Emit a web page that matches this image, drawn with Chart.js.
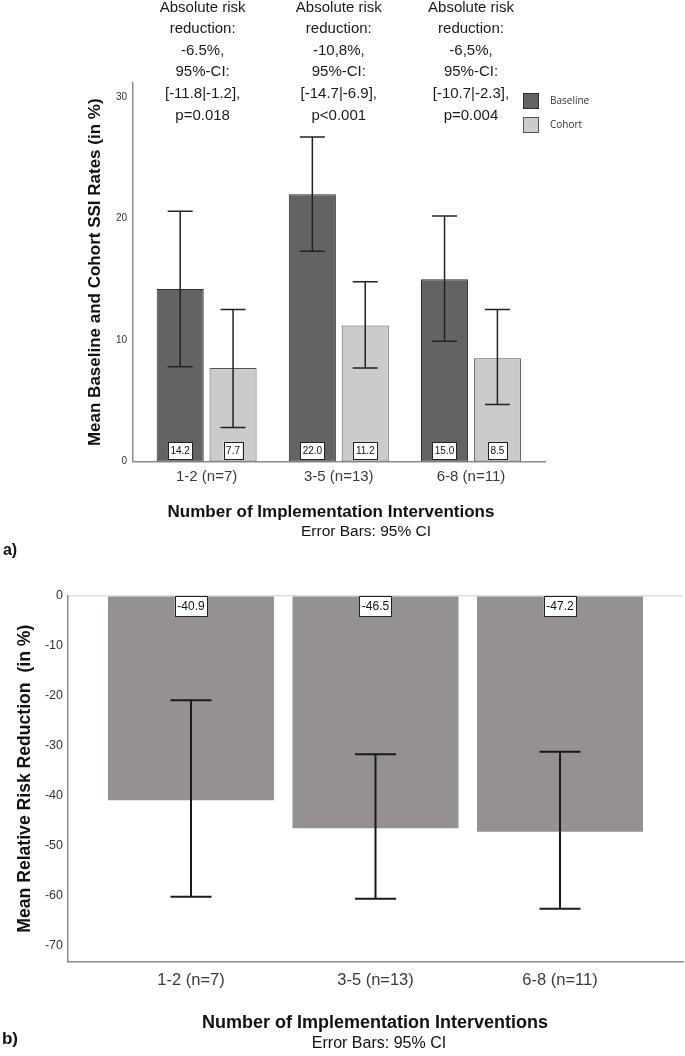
<!DOCTYPE html>
<html>
<head>
<meta charset="utf-8">
<script src="https://cdn.jsdelivr.net/npm/chart.js@4.4.1/dist/chart.umd.min.js"></script>
<style>
  html, body { margin: 0; padding: 0; background: #fff; }
  body { width: 685px; height: 1056px; position: relative; overflow: hidden; font-family: 'Liberation Sans', Arial, sans-serif; }
  #wrapA { position: absolute; left: 0; top: 0; width: 685px; height: 560px; }
  #wrapB { position: absolute; left: 0; top: 560px; width: 685px; height: 496px; }
  .cap { position: absolute; white-space: nowrap; transform: translate(-50%, -50%); font-size: 15.5px; color: #111; }
  .bold { font-weight: bold; }
</style>
</head>
<body>
<div id="wrapA"><canvas id="chartA" width="685" height="560"></canvas></div>
<div id="wrapB"><canvas id="chartB" width="685" height="496"></canvas></div>

<div class="cap bold" style="left:331px; top:512px; font-size:17px;">Number of Implementation Interventions</div>
<div class="cap" style="left:366px; top:531px;">Error Bars: 95% CI</div>
<div class="cap bold" style="left:10px; top:550px; font-size:16px;">a)</div>

<div class="cap bold" style="left:375px; top:1022px; font-size:18px;">Number of Implementation Interventions</div>
<div class="cap" style="left:379px; top:1043px; font-size:16px;">Error Bars: 95% CI</div>
<div class="cap bold" style="left:10px; top:1039px; font-size:17px;">b)</div>

<script>
// categories shared by both panels
const categories = ['1-2 (n=7)', '3-5 (n=13)', '6-8 (n=11)'];

// panel a: mean SSI rates with 95% CI
const baseline = [14.2, 22.0, 15.0];
const baselineLow = [7.8, 17.3, 9.9];
const baselineHigh = [20.6, 26.7, 20.2];
const cohort = [7.7, 11.2, 8.5];
const cohortLow = [2.8, 7.7, 4.7];
const cohortHigh = [12.5, 14.8, 12.5];
const ticksA = [0, 10, 20, 30];
const arrNotes = [
    ['Absolute risk', 'reduction:', '-6.5%,', '95%-CI:', '[-11.8|-1.2],', 'p=0.018'],
    ['Absolute risk', 'reduction:', '-10,8%,', '95%-CI:', '[-14.7|-6.9],', 'p<0.001'],
    ['Absolute risk', 'reduction:', '-6,5%,', '95%-CI:', '[-10.7|-2.3],', 'p=0.004']
];

// panel b: mean relative risk reduction with 95% CI
const rrr = [-40.9, -46.5, -47.2];
const rrrLow = [-60.2, -60.6, -62.6];
const rrrHigh = [-20.9, -31.7, -31.2];
const ticksB = [0, -10, -20, -30, -40, -50, -60, -70];

const FONT = "'Liberation Sans', Arial, sans-serif";

function toPoints(values) {
    return values.map((v, i) => ({ x: i, y: v }));
}

// error bars drawn from the y scale
function errorBars(ranges, capWidth, color, lineWidth) {
    return {
        id: 'errorBars',
        afterDatasetsDraw(chart) {
            const ctx = chart.ctx;
            const y = chart.scales.y;
            ctx.save();
            ctx.strokeStyle = color;
            ctx.lineWidth = lineWidth;
            chart.data.datasets.forEach((ds, di) => {
                chart.getDatasetMeta(di).data.forEach((bar, i) => {
                    const yl = y.getPixelForValue(ranges[di][0][i]);
                    const yh = y.getPixelForValue(ranges[di][1][i]);
                    ctx.beginPath();
                    ctx.moveTo(bar.x, yl); ctx.lineTo(bar.x, yh);
                    ctx.moveTo(bar.x - capWidth / 2, yl); ctx.lineTo(bar.x + capWidth / 2, yl);
                    ctx.moveTo(bar.x - capWidth / 2, yh); ctx.lineTo(bar.x + capWidth / 2, yh);
                    ctx.stroke();
                });
            });
            ctx.restore();
        }
    };
}

// white boxed value labels sitting at the bar base
function valueBoxes(fontSize, boxTop, boxH) {
    return {
        id: 'valueBoxes',
        afterDatasetsDraw(chart) {
            const ctx = chart.ctx;
            ctx.save();
            ctx.font = fontSize + 'px ' + FONT;
            ctx.textAlign = 'center';
            ctx.textBaseline = 'middle';
            chart.data.datasets.forEach((ds, di) => {
                chart.getDatasetMeta(di).data.forEach((bar, i) => {
                    const txt = ds.data[i].y.toFixed(1);
                    const w = ctx.measureText(txt).width + 5;
                    const top = bar.base + boxTop;
                    ctx.fillStyle = '#fff';
                    ctx.fillRect(bar.x - w / 2, top, w, boxH);
                    ctx.strokeStyle = '#222';
                    ctx.lineWidth = 1;
                    ctx.strokeRect(Math.round(bar.x - w / 2) + 0.5, Math.round(top) + 0.5, Math.round(w), boxH);
                    ctx.fillStyle = '#111';
                    ctx.fillText(txt, bar.x, top + boxH / 2 + 0.5);
                });
            });
            ctx.restore();
        }
    };
}

// p-value notes above each group and the small legend
const notesAndLegend = {
    id: 'notesAndLegend',
    afterDraw(chart) {
        const ctx = chart.ctx;
        const x = chart.scales.x;
        ctx.save();
        ctx.font = '15px ' + FONT;
        ctx.fillStyle = '#1a1a1a';
        ctx.textAlign = 'center';
        ctx.textBaseline = 'middle';
        arrNotes.forEach((lines, i) => {
            const cx = x.getPixelForValue(i) - (i === 0 ? 4 : 0);
            lines.forEach((t, k) => ctx.fillText(t, cx, 7.5 + k * 21.6));
        });

        ctx.font = "10px 'Open Sans', " + FONT;
        ctx.textAlign = 'left';
        chart.data.datasets.forEach((ds, di) => {
            const top = 93 + di * 24;
            ctx.fillStyle = ds.backgroundColor;
            ctx.fillRect(523, top, 16, 16);
            ctx.strokeStyle = ds.borderColor;
            ctx.lineWidth = 1;
            ctx.strokeRect(523.5, top + 0.5, 15, 15);
            ctx.fillStyle = '#333';
            ctx.fillText(ds.label, 550, top + 8);
        });
        ctx.restore();
    }
};

function catAxis(min, max, height, pad, size) {
    return {
        type: 'linear',
        min: min,
        max: max,
        offset: false,
        grid: { display: false, drawTicks: false },
        border: { display: true, color: '#8c8c8c', width: 1.5 },
        afterBuildTicks: s => { s.ticks = categories.map((c, i) => ({ value: i })); },
        afterFit: s => { s.height = height; },
        ticks: {
            padding: pad,
            autoSkip: false,
            maxRotation: 0,
            color: '#3a3a3a',
            font: { family: FONT, size: size },
            callback: v => categories[v]
        }
    };
}

new Chart(document.getElementById('chartA'), {
    type: 'bar',
    data: {
        datasets: [{
            label: 'Baseline',
            data: toPoints(baseline),
            backgroundColor: '#636363',
            borderColor: '#2e2e2e',
            borderWidth: 1,
            borderSkipped: false,
            categoryPercentage: 0.8,
            barPercentage: 0.89
        }, {
            label: 'Cohort',
            data: toPoints(cohort),
            backgroundColor: '#cbcbcb',
            borderColor: '#555',
            borderWidth: 1,
            borderSkipped: false,
            categoryPercentage: 0.8,
            barPercentage: 0.89
        }]
    },
    options: {
        responsive: false,
        animation: false,
        layout: { padding: { left: 0, top: 83, right: 140, bottom: 0 } },
        plugins: { legend: { display: false }, tooltip: { enabled: false } },
        scales: {
            x: catAxis(-0.557, 2.56, 98.5, 6, 15),
            y: {
                min: 0,
                max: 31.15,
                grid: { display: false, drawTicks: false },
                border: { display: true, color: '#8c8c8c', width: 1.5 },
                afterBuildTicks: s => { s.ticks = ticksA.map(v => ({ value: v })); },
                afterFit: s => { s.width = 133; },
                ticks: { padding: 6, color: '#333', font: { family: FONT, size: 10 } },
                title: {
                    display: true,
                    text: 'Mean Baseline and Cohort SSI Rates (in %)',
                    color: '#111',
                    padding: { top: 85, bottom: 0 },
                    font: { family: FONT, size: 17, weight: 'bold' }
                }
            }
        }
    },
    plugins: [
        errorBars([[baselineLow, baselineHigh], [cohortLow, cohortHigh]], 25, '#222', 1.5),
        valueBoxes(10, -19.5, 17),
        notesAndLegend
    ]
});

new Chart(document.getElementById('chartB'), {
    type: 'bar',
    data: {
        datasets: [{
            label: 'Relative risk reduction',
            data: toPoints(rrr),
            backgroundColor: '#959190',
            borderWidth: 0,
            categoryPercentage: 1,
            barPercentage: 0.9
        }]
    },
    options: {
        responsive: false,
        animation: false,
        layout: { padding: { left: 0, top: 35.7, right: 2, bottom: 0 } },
        plugins: { legend: { display: false }, tooltip: { enabled: false } },
        scales: {
            x: catAxis(-2 / 3, 2 + 2 / 3, 94.3, 8.4, 16.5),
            y: {
                min: -73.2,
                max: 0,
                grid: {
                    drawTicks: false,
                    lineWidth: 1.5,
                    color: c => (c.tick && c.tick.value === 0 ? '#dedede' : 'rgba(0,0,0,0)')
                },
                border: { display: true, color: '#8c8c8c', width: 1.5 },
                afterBuildTicks: s => { s.ticks = ticksB.map(v => ({ value: v })); },
                afterFit: s => { s.width = 68; },
                ticks: { padding: 5, color: '#333', font: { family: FONT, size: 12.5 } },
                title: {
                    display: true,
                    text: 'Mean Relative Risk Reduction  (in %)',
                    color: '#111',
                    padding: { top: 14.5, bottom: 0 },
                    font: { family: FONT, size: 17.6, weight: 'bold' }
                }
            }
        }
    },
    plugins: [
        errorBars([[rrrLow, rrrHigh]], 41, '#1a1a1a', 2),
        valueBoxes(12, -0.5, 20)
    ]
});
</script>
</body>
</html>
